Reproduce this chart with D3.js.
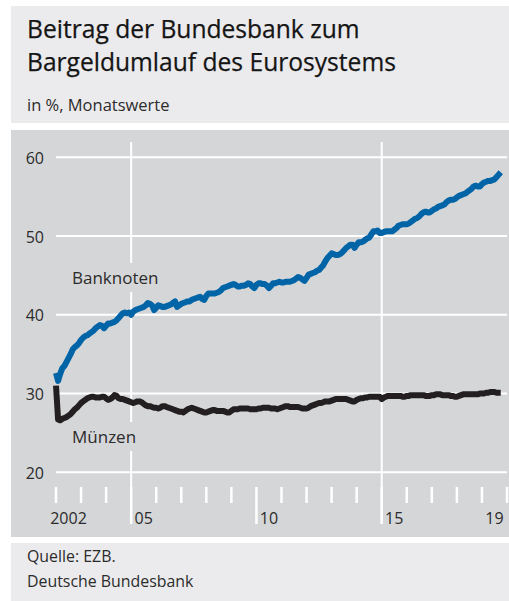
<!DOCTYPE html>
<html>
<head>
<meta charset="utf-8">
<script src="https://cdn.jsdelivr.net/npm/d3@7"></script>
<style>
  html, body { margin: 0; padding: 0; background: #ffffff; }
  svg { display: block; font-family: "Open Sans", "Noto Sans", sans-serif; }
</style>
</head>
<body>
<svg id="chart" width="509" height="601"></svg>
<script>
// Monthly shares in % of the Eurosystem's cash in circulation, Jan 2002 – Oct 2019
const startYear = 2002;

const banknoten = [
  32.6, 31.6, 32.5, 33.2, 33.5, 34.0, 34.5, 35.0, 35.6, 35.9, 36.1, 36.4, // 2002
  36.8, 37.1, 37.3, 37.4, 37.6, 37.8, 38.0, 38.3, 38.5, 38.7, 38.6, 38.3, // 2003
  38.6, 38.9, 38.9, 39.0, 39.1, 39.3, 39.6, 39.9, 40.2, 40.3, 40.2, 40.3, // 2004
  40.0, 40.4, 40.6, 40.7, 40.8, 40.9, 41.0, 41.2, 41.5, 41.4, 41.2, 40.6, // 2005
  40.9, 41.2, 41.1, 41.0, 41.0, 41.1, 41.2, 41.3, 41.5, 41.7, 41.0, 41.2, // 2006
  41.4, 41.5, 41.6, 41.7, 41.7, 41.9, 42.0, 42.1, 42.2, 42.3, 42.0, 41.9, // 2007
  42.4, 42.7, 42.7, 42.7, 42.7, 42.8, 42.9, 43.1, 43.4, 43.5, 43.6, 43.7, // 2008
  43.8, 43.9, 43.8, 43.6, 43.6, 43.7, 43.7, 43.8, 44.0, 43.9, 43.6, 43.4, // 2009
  43.8, 44.0, 44.0, 43.9, 43.9, 43.7, 43.4, 43.7, 44.0, 44.0, 44.1, 44.2, // 2010
  44.1, 44.1, 44.2, 44.2, 44.2, 44.3, 44.4, 44.6, 44.8, 44.7, 44.5, 44.3, // 2011
  44.7, 45.1, 45.2, 45.3, 45.4, 45.6, 45.7, 46.0, 46.3, 46.8, 47.2, 47.5, // 2012
  47.8, 47.7, 47.6, 47.6, 47.7, 47.9, 48.2, 48.5, 48.7, 48.9, 48.9, 48.5, // 2013
  48.9, 49.2, 49.2, 49.3, 49.5, 49.7, 49.8, 50.2, 50.6, 50.6, 50.7, 50.4, // 2014
  50.4, 50.5, 50.6, 50.6, 50.6, 50.6, 50.8, 51.0, 51.3, 51.4, 51.5, 51.5, // 2015
  51.5, 51.6, 51.8, 52.0, 52.2, 52.3, 52.5, 52.8, 53.0, 53.1, 53.0, 53.0, // 2016
  53.2, 53.4, 53.5, 53.7, 53.8, 53.9, 54.0, 54.3, 54.5, 54.6, 54.6, 54.7, // 2017
  54.9, 55.1, 55.2, 55.3, 55.4, 55.6, 55.8, 56.0, 56.3, 56.4, 56.3, 56.3, // 2018
  56.6, 56.8, 56.9, 57.0, 57.0, 57.1, 57.2, 57.5, 57.8, 58.1              // 2019
];

const muenzen = [
  31.0, 26.7, 26.6, 26.8, 26.9, 27.0, 27.2, 27.4, 27.7, 28.0, 28.2, 28.5, // 2002
  28.8, 29.0, 29.2, 29.4, 29.5, 29.6, 29.6, 29.5, 29.5, 29.5, 29.6, 29.6, // 2003
  29.4, 29.2, 29.3, 29.5, 29.8, 29.7, 29.4, 29.3, 29.3, 29.2, 29.1, 29.0, // 2004
  28.9, 28.8, 28.9, 29.0, 29.0, 28.9, 28.7, 28.5, 28.4, 28.4, 28.3, 28.2, // 2005
  28.2, 28.1, 28.2, 28.4, 28.4, 28.3, 28.2, 28.1, 28.0, 27.9, 27.8, 27.7, // 2006
  27.7, 27.6, 27.8, 28.0, 28.1, 28.2, 28.1, 28.0, 27.9, 27.8, 27.7, 27.6, // 2007
  27.6, 27.7, 27.8, 27.9, 27.9, 27.8, 27.8, 27.8, 27.8, 27.7, 27.6, 27.6, // 2008
  27.8, 28.0, 28.0, 28.0, 28.1, 28.1, 28.1, 28.1, 28.1, 28.0, 28.0, 28.0, // 2009
  28.0, 28.1, 28.1, 28.2, 28.2, 28.2, 28.2, 28.1, 28.1, 28.1, 28.0, 28.1, // 2010
  28.2, 28.3, 28.4, 28.4, 28.3, 28.3, 28.3, 28.3, 28.3, 28.2, 28.1, 28.1, // 2011
  28.1, 28.2, 28.4, 28.5, 28.6, 28.7, 28.8, 28.8, 28.9, 29.0, 29.0, 29.0, // 2012
  29.1, 29.2, 29.3, 29.3, 29.3, 29.3, 29.3, 29.3, 29.2, 29.1, 29.0, 29.0, // 2013
  29.2, 29.3, 29.4, 29.4, 29.5, 29.5, 29.6, 29.6, 29.6, 29.6, 29.6, 29.6, // 2014
  29.3, 29.5, 29.6, 29.7, 29.7, 29.7, 29.7, 29.7, 29.7, 29.7, 29.6, 29.6, // 2015
  29.7, 29.7, 29.8, 29.8, 29.8, 29.8, 29.8, 29.8, 29.8, 29.7, 29.7, 29.7, // 2016
  29.8, 29.8, 29.9, 29.9, 29.9, 29.8, 29.8, 29.8, 29.8, 29.7, 29.7, 29.6, // 2017
  29.6, 29.7, 29.8, 29.9, 29.9, 29.9, 29.9, 29.9, 29.9, 29.9, 29.9, 30.0, // 2018
  30.0, 30.0, 30.1, 30.1, 30.2, 30.2, 30.2, 30.1, 30.1, 30.1              // 2019
];

const yTicks = [20, 30, 40, 50, 60];
const xTickYears = d3.range(2002, 2021);
const xLongTickYears = [2005, 2010, 2015];
const xGridYears = [2005, 2015];
const xLabelYears = [2002, 2005, 2010, 2015, 2019];
const xLabels = ["2002", "05", "10", "15", "19"];

const titleLines = ["Beitrag der Bundesbank zum", "Bargeldumlauf des Eurosystems"];
const subtitle = "in %, Monatswerte";
const footerLines = ["Quelle: EZB.", "Deutsche Bundesbank"];

const colors = {
  headBg: "#ebebed",
  plotBg: "#d5d6d8",
  grid: "#ffffff",
  text: "#2b2b2b",
  blue: "#0064a7",
  black: "#231f20"
};

const svg = d3.select("#chart");

// Header, plot and footer panels
svg.append("rect").attr("x", 11).attr("y", 6).attr("width", 498).attr("height", 117).attr("fill", colors.headBg);
svg.append("rect").attr("x", 11).attr("y", 130).attr("width", 498).attr("height", 407).attr("fill", colors.plotBg);
svg.append("rect").attr("x", 11).attr("y", 543).attr("width", 498).attr("height", 58).attr("fill", colors.headBg);

// Title block
svg.append("g").selectAll("text").data(titleLines).join("text")
  .attr("x", 27).attr("y", (d, i) => 38 + i * 33)
  .attr("font-size", 24.6).attr("fill", "#151515")
  .attr("stroke", "#151515").attr("stroke-width", 0.25)
  .text(d => d);
svg.append("text").attr("x", 27).attr("y", 111)
  .attr("font-size", 16.5).attr("fill", colors.text).text(subtitle);

// Footer
svg.append("g").selectAll("text").data(footerLines).join("text")
  .attr("x", 27).attr("y", (d, i) => 562 + i * 25)
  .attr("font-size", 15.9).attr("fill", colors.text)
  .text(d => d);

// Scales
const x = d3.scaleLinear().domain([2002, 2020]).range([56, 507]);
const y = d3.scaleLinear().domain([20, 60]).range([472.3, 157.3]);
const monthX = i => x(startYear + i / 12);

const plot = svg.append("g");

// Horizontal gridlines
plot.append("g").selectAll("line").data(yTicks).join("line")
  .attr("x1", x(2002)).attr("x2", x(2020))
  .attr("y1", d => y(d)).attr("y2", d => y(d))
  .attr("stroke", colors.grid).attr("stroke-width", 2);

// Vertical gridlines
plot.append("g").selectAll("line").data(xGridYears).join("line")
  .attr("x1", d => x(d)).attr("x2", d => x(d))
  .attr("y1", 142).attr("y2", 524)
  .attr("stroke", colors.grid).attr("stroke-width", 2);

// Year ticks along the bottom
plot.append("g").selectAll("line").data(xTickYears).join("line")
  .attr("x1", d => x(d)).attr("x2", d => x(d))
  .attr("y1", 487)
  .attr("y2", d => xLongTickYears.includes(d) ? 524 : 503)
  .attr("stroke", colors.grid).attr("stroke-width", 2.5);

// Y axis labels
plot.append("g").selectAll("text").data(yTicks).join("text")
  .attr("x", 44).attr("y", d => y(d) + 6.5)
  .attr("text-anchor", "end").attr("font-size", 16).attr("fill", colors.text)
  .text(d => d);

// X axis labels
plot.append("g").selectAll("text").data(xLabelYears).join("text")
  .attr("x", d => x(d + 0.5)).attr("y", 524)
  .attr("text-anchor", "middle").attr("font-size", 16).attr("fill", colors.text)
  .text((d, i) => xLabels[i]);

// Series labels with a knockout behind them
const seriesLabels = [
  { text: "Banknoten", x: 72, y: 284 },
  { text: "Münzen", x: 72, y: 443 }
];
seriesLabels.forEach(l => {
  const g = plot.append("g");
  const bg = g.append("rect").attr("fill", colors.plotBg);
  const t = g.append("text").attr("x", l.x).attr("y", l.y)
    .attr("font-size", 17).attr("fill", colors.text).text(l.text);
  const b = t.node().getBBox();
  bg.attr("x", b.x - 3).attr("y", b.y - 3).attr("width", b.width + 6).attr("height", b.height + 6);
});

// Series lines
const line = d3.line().x((d, i) => monthX(i)).y(d => y(d));
plot.append("path").datum(banknoten).attr("d", line)
  .attr("fill", "none").attr("stroke", colors.blue)
  .attr("stroke-width", 6).attr("stroke-linejoin", "round");
plot.append("path").datum(muenzen).attr("d", line)
  .attr("fill", "none").attr("stroke", colors.black)
  .attr("stroke-width", 6).attr("stroke-linejoin", "round");
</script>
</body>
</html>
